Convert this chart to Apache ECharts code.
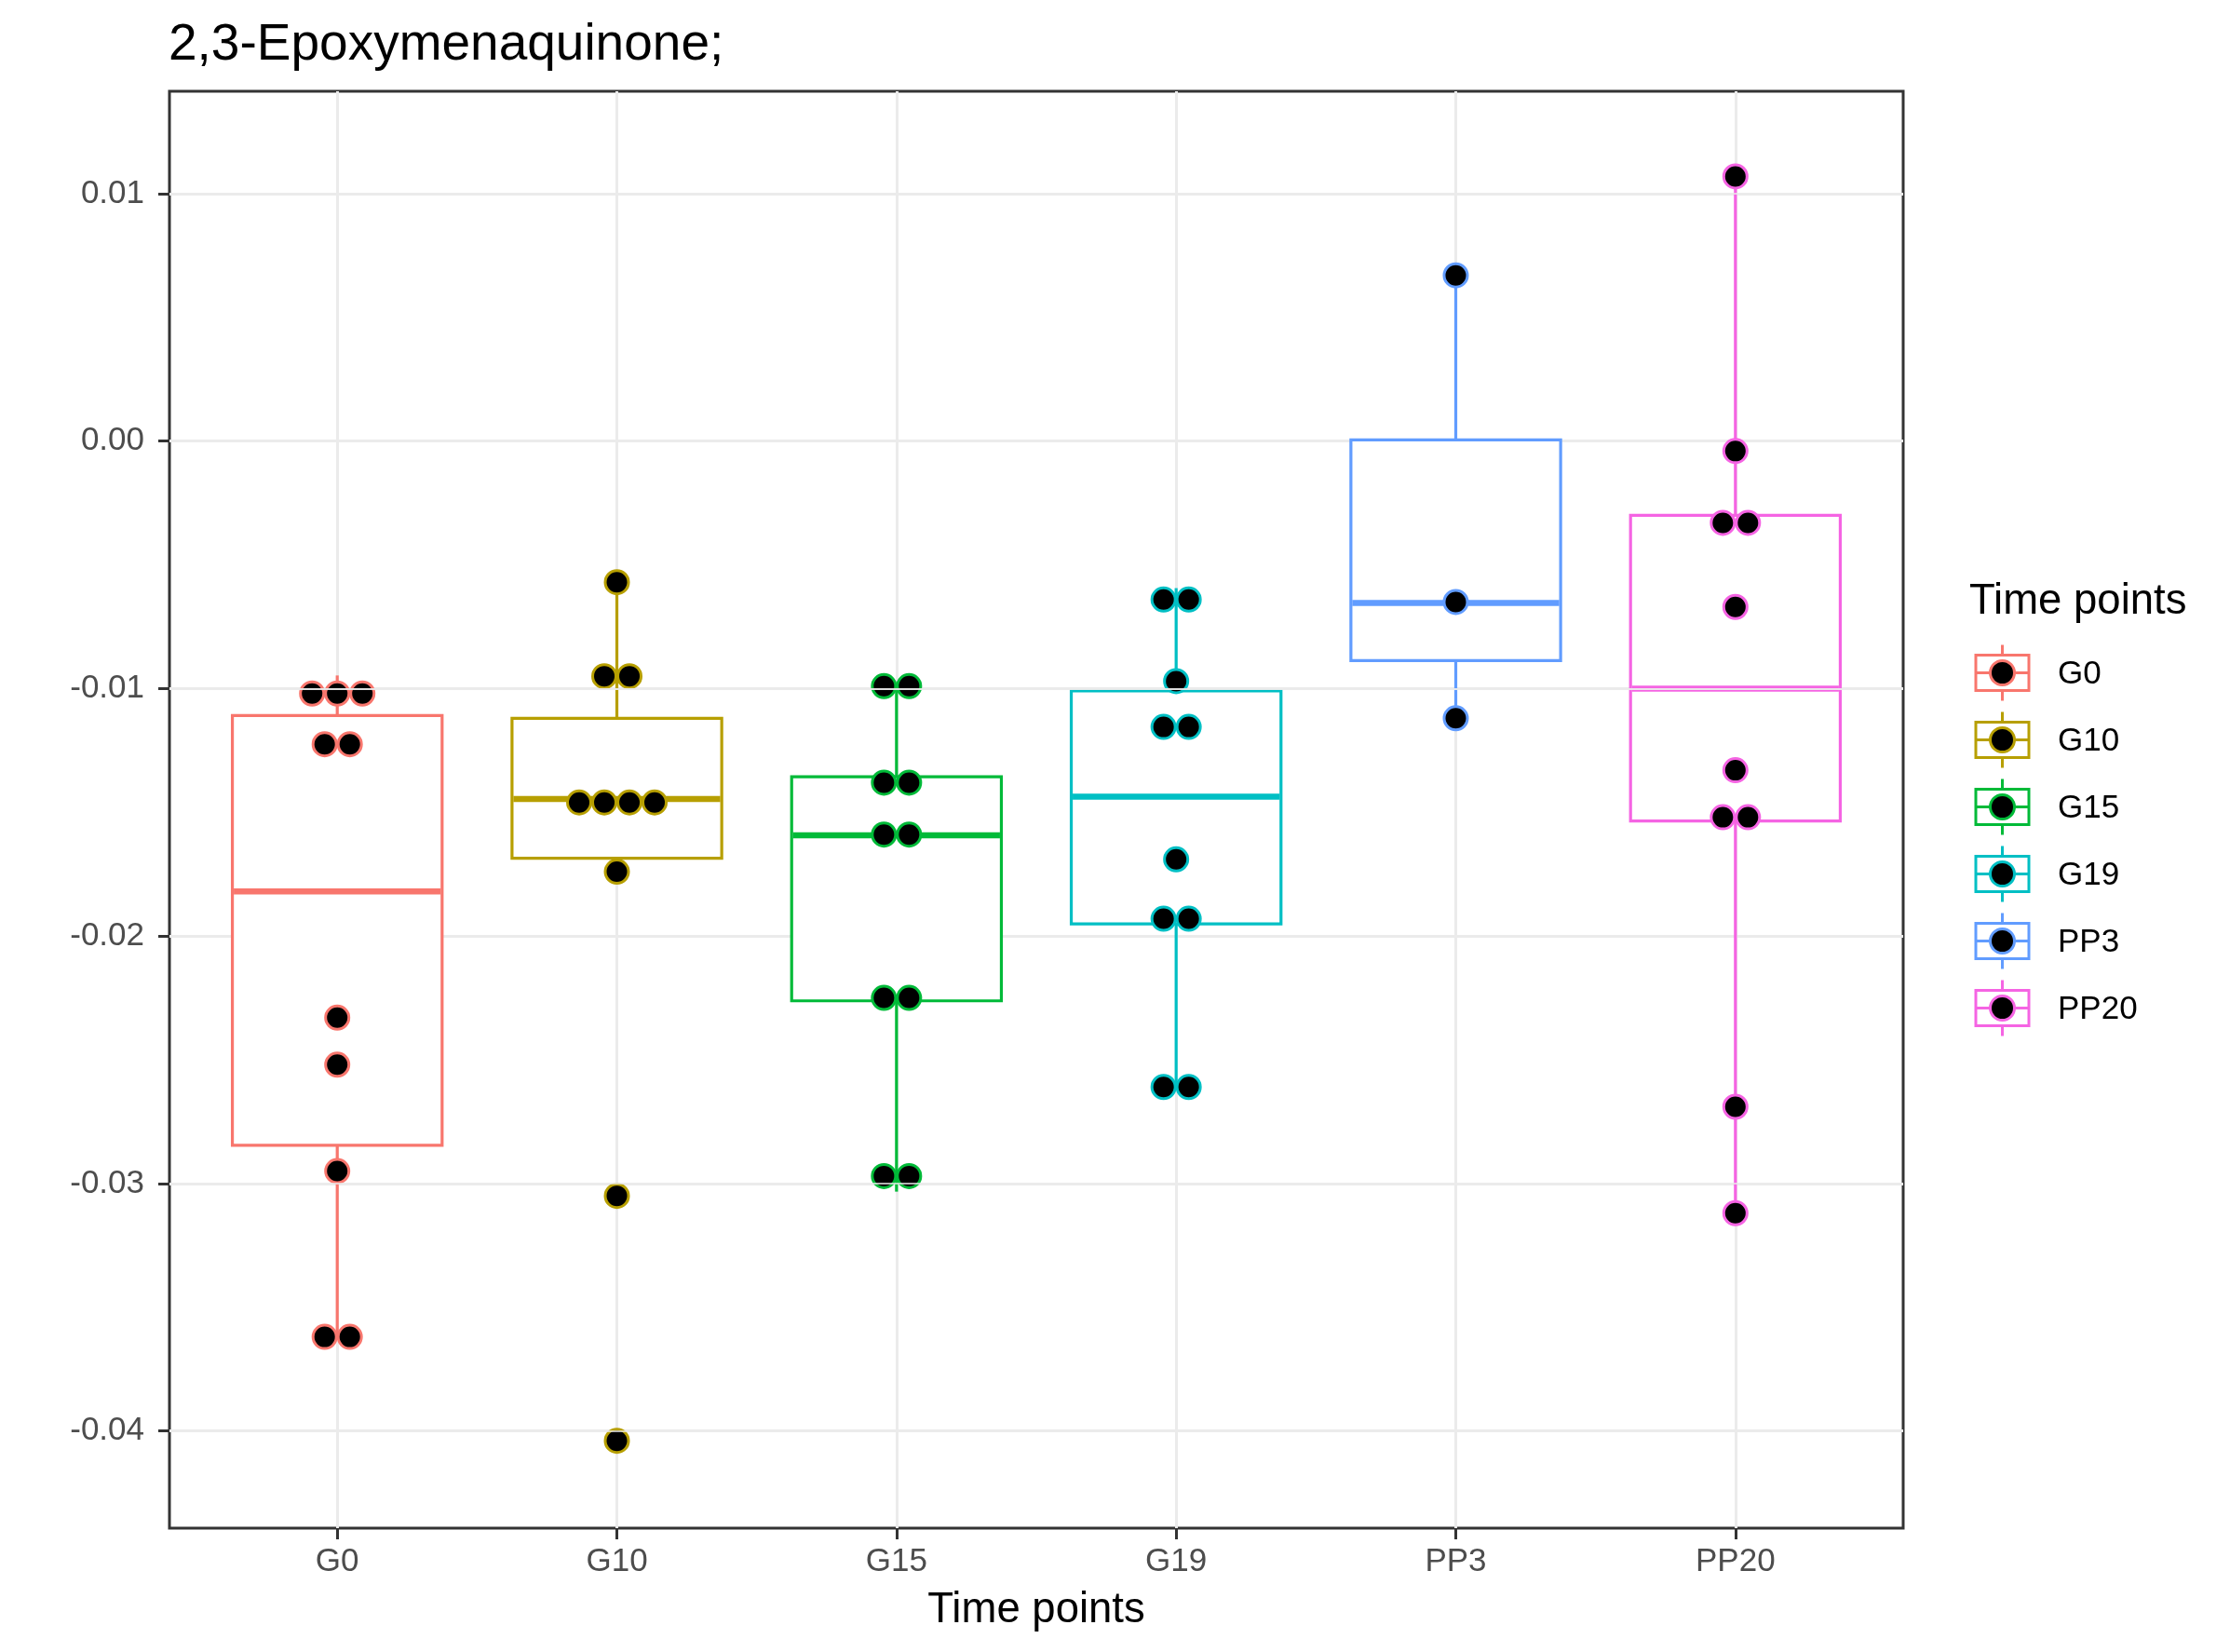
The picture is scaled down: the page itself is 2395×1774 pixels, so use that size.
<!DOCTYPE html>
<html><head><meta charset="utf-8">
<script src="https://cdn.jsdelivr.net/npm/echarts@6/dist/echarts.min.js"></script>
<style>html,body{margin:0;padding:0;background:#fff}#chart{width:2395px;height:1774px}</style>
</head><body><div id="chart"></div>
<script>
// ---- data ----
const categories = ['G0', 'G10', 'G15', 'G19', 'PP3', 'PP20'];
const colors = ['#F8766D', '#B79F00', '#00BA38', '#00BFC4', '#619CFF', '#F564E3'];
const yTicks = [-0.04, -0.03, -0.02, -0.01, 0.00, 0.01];
const yMinorTicks = [-0.035, -0.025, -0.015, -0.005, 0.005];
const xTicks = [0, 1, 2, 3, 4, 5];

// box statistics: [lower whisker, Q1, median, Q3, upper whisker]
const boxG0   = [-0.0363, -0.02846, -0.0182, -0.01109, -0.00947];
const boxG10  = [-0.0174, -0.01686, -0.01446, -0.0112, -0.0057];
const boxG15  = [-0.03033, -0.02262, -0.01593, -0.01356, -0.0099];
const boxG19  = [-0.0262, -0.01951, -0.01437, -0.01009, -0.00594];
const boxPP3  = [-0.01121, -0.00887, -0.00654, 0.00005, 0.0067];
const boxPP20 = [-0.03116, -0.01535, -0.0100, -0.0030, 0.01068];

// dot positions (binned values)
const dotsG0   = [-0.0102, -0.0102, -0.0102, -0.01225, -0.01225, -0.0233, -0.0252, -0.0295, -0.0362, -0.0362];
const dotsG10  = [-0.0057, -0.0095, -0.0095, -0.0146, -0.0146, -0.0146, -0.0146, -0.0174, -0.0305, -0.0404];
const dotsG15  = [-0.0099, -0.0099, -0.0138, -0.0138, -0.0159, -0.0159, -0.0225, -0.0225, -0.0297, -0.0297];
const dotsG19  = [-0.0064, -0.0064, -0.0097, -0.01155, -0.01155, -0.0169, -0.0193, -0.0193, -0.0261, -0.0261];
const dotsPP3  = [0.0067, -0.0065, -0.0112];
const dotsPP20 = [0.0107, -0.0004, -0.0033, -0.0033, -0.0067, -0.0133, -0.0152, -0.0152, -0.0269, -0.0312];

const boxes = [boxG0, boxG10, boxG15, boxG19, boxPP3, boxPP20];
const dots = [dotsG0, dotsG10, dotsG15, dotsG19, dotsPP3, dotsPP20];

// ---- chart ----
const FONT = '"Liberation Sans", Arial, Helvetica, sans-serif';
const DOT_STEP = 27;

function stackDots(idx, vals) {
  const counts = {};
  vals.forEach(v => { counts[v] = (counts[v] || 0) + 1; });
  const seen = {};
  return vals.map(v => {
    const k = seen[v] = (seen[v] === undefined ? 0 : seen[v] + 1);
    const n = counts[v];
    return { value: [idx, v], symbolOffset: [(k - (n - 1) / 2) * DOT_STEP, 0] };
  });
}

function renderBox(params, api) {
  const x = api.value(0);
  const lo = api.coord([x, api.value(1)]);
  const q1 = api.coord([x, api.value(2)]);
  const md = api.coord([x, api.value(3)]);
  const q3 = api.coord([x, api.value(4)]);
  const hi = api.coord([x, api.value(5)]);
  const w = api.size([0.75, 0])[0];
  const cx = lo[0];
  const col = colors[x];
  return {
    type: 'group',
    children: [
      { type: 'line', shape: { x1: cx, y1: hi[1], x2: cx, y2: q3[1] }, style: { stroke: col, lineWidth: 3.2 } },
      { type: 'line', shape: { x1: cx, y1: q1[1], x2: cx, y2: lo[1] }, style: { stroke: col, lineWidth: 3.2 } },
      { type: 'rect', shape: { x: cx - w / 2, y: q3[1], width: w, height: q1[1] - q3[1] }, style: { fill: '#ffffff', stroke: col, lineWidth: 3.2 } },
      { type: 'line', shape: { x1: cx - w / 2 + 1.5, y1: md[1], x2: cx + w / 2 - 1.5, y2: md[1] }, style: { stroke: col, lineWidth: 6.4 } }
    ]
  };
}

const series = [];
series.push({
  type: 'scatter', data: [], z: 1, silent: true,
  markLine: {
    silent: true, symbol: ['none', 'none'], label: { show: false },
    lineStyle: { color: '#EBEBEB', width: 1.5, type: 'solid' },
    data: yMinorTicks.map(v => ({ yAxis: v }))
  }
});
series.push({
  type: 'custom', z: 2, silent: true,
  renderItem: renderBox,
  encode: { x: 0, y: [1, 2, 3, 4, 5] },
  data: boxes.map((b, i) => [i].concat(b))
});
dots.forEach((vals, i) => {
  series.push({
    type: 'scatter', z: 3, silent: true,
    symbol: 'circle', symbolSize: 25,
    itemStyle: { color: '#000000', borderColor: colors[i], borderWidth: 3, opacity: 1 },
    data: stackDots(i, vals)
  });
});

// legend (ggplot-style keys)
const legendGraphics = [{
  type: 'text', left: 2115, top: 623,
  style: { text: 'Time points', font: '45.5px ' + FONT, fill: '#000' }
}];
categories.forEach((c, i) => {
  const cy = 722.5 + 72 * i;
  const cx = 2150.5;
  const col = colors[i];
  legendGraphics.push(
    { type: 'line', shape: { x1: cx, y1: cy - 30, x2: cx, y2: cy + 30 }, style: { stroke: col, lineWidth: 3 } },
    { type: 'rect', shape: { x: cx - 28.5, y: cy - 19, width: 57, height: 38 }, style: { fill: '#fff', stroke: col, lineWidth: 3 } },
    { type: 'line', shape: { x1: cx - 28.5, y1: cy, x2: cx + 28.5, y2: cy }, style: { stroke: col, lineWidth: 3 } },
    { type: 'circle', shape: { cx: cx, cy: cy, r: 13 }, style: { fill: '#000', stroke: col, lineWidth: 3 } },
    { type: 'text', x: 2210, y: cy + 2, style: { text: c, font: '35px ' + FONT, fill: '#000', verticalAlign: 'middle', textVerticalAlign: 'middle' } }
  );
});

const chart = echarts.init(document.getElementById('chart'), null, { renderer: 'canvas' });
chart.setOption({
  backgroundColor: '#ffffff',
  animation: false,
  title: {
    text: '2,3-Epoxymenaquinone;', left: 176, top: 16,
    textStyle: { fontFamily: FONT, fontSize: 55, fontWeight: 'normal', color: '#000' }
  },
  grid: { left: 182, right: 351, top: 98, bottom: 133, show: true, borderColor: '#333333', borderWidth: 3, backgroundColor: 'transparent' },
  xAxis: {
    type: 'value', min: -0.6, max: 5.6,
    name: 'Time points', nameLocation: 'middle', nameGap: 65,
    nameTextStyle: { fontFamily: FONT, fontSize: 45.5, color: '#000' },
    axisLine: { show: false, onZero: false },
    axisTick: { show: true, length: 12, lineStyle: { color: '#333333', width: 3 }, customValues: xTicks },
    axisLabel: { margin: 19, fontFamily: FONT, fontSize: 35, color: '#4D4D4D', customValues: xTicks, formatter: v => categories[Math.round(v)] },
    splitLine: { show: true, lineStyle: { color: '#EBEBEB', width: 3 } }
  },
  yAxis: {
    type: 'value', min: -0.04393, max: 0.01414,
    axisLine: { show: false, onZero: false },
    axisTick: { show: true, length: 12, lineStyle: { color: '#333333', width: 3 }, customValues: yTicks },
    axisLabel: { margin: 27, fontFamily: FONT, fontSize: 35, color: '#4D4D4D', customValues: yTicks, formatter: v => v.toFixed(2) },
    splitLine: { show: true, lineStyle: { color: '#EBEBEB', width: 3 } }
  },
  graphic: legendGraphics,
  series: series
});
</script></body></html>
